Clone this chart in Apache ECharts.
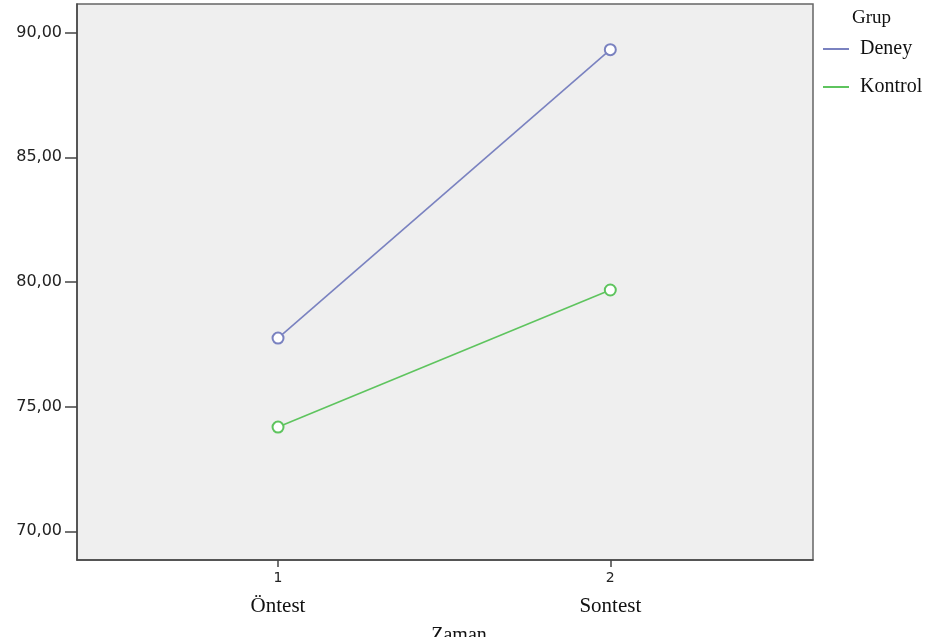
<!DOCTYPE html>
<html>
<head>
<meta charset="utf-8">
<script src="https://cdn.jsdelivr.net/npm/echarts@6/dist/echarts.min.js"></script>
<style>
html,body{margin:0;padding:0;background:#fff;}
#chart{width:945px;height:637px;}
</style>
</head>
<body>
<div id="chart"></div>
<script>
var timeValues = [1, 2];
var timeNames = ['Öntest', 'Sontest'];
var deney = [77.75, 89.32];
var kontrol = [74.18, 79.68];
var yTicks = [70, 75, 80, 85, 90];
var seriesNames = ['Deney', 'Kontrol'];
var legendTitle = 'Grup';
var xAxisTitle = 'Zaman';

function pairs(vals) {
  return timeValues.map(function (t, i) { return [t, vals[i]]; });
}

var chart = echarts.init(document.getElementById('chart'), null, {renderer: 'canvas'});
chart.setOption({
  animation: false,
  backgroundColor: '#ffffff',
  title: {
    text: legendTitle,
    left: 847, top: 4,
    textStyle: {fontFamily: 'Liberation Serif', fontSize: 19, fontWeight: 'normal', color: '#111'}
  },
  legend: {
    orient: 'vertical',
    left: 818, top: 34,
    itemWidth: 26, itemHeight: 2, itemGap: 18,
    icon: 'rect',
    data: seriesNames,
    textStyle: {fontFamily: 'Liberation Serif', fontSize: 20, color: '#111', padding: [0, 0, 0, 6]}
  },
  grid: {
    left: 77, top: 4, right: 132, bottom: 77,
    outerBoundsMode: 'none',
    containLabel: false,
    show: true, backgroundColor: '#efefef',
    borderColor: '#666', borderWidth: 1.5
  },
  xAxis: {
    type: 'value', min: 0.395, max: 2.61,
    name: xAxisTitle, nameLocation: 'middle', nameGap: 66,
    nameTextStyle: {fontFamily: 'Liberation Serif', fontSize: 20, color: '#111', padding: [0, 0, 0, 28]},
    axisLine: {show: true, lineStyle: {color: '#444', width: 1.5}},
    axisTick: {show: true, customValues: timeValues, length: 7, lineStyle: {color: '#444', width: 1.5}},
    splitLine: {show: false},
    axisLabel: {
      customValues: timeValues,
      margin: 9,
      formatter: function (v) {
        var i = timeValues.indexOf(v);
        return '{n|' + v + '}\n{t|' + (i >= 0 ? timeNames[i] : '') + '}';
      },
      rich: {
        n: {fontFamily: 'DejaVu Sans', fontSize: 14, color: '#222', lineHeight: 18},
        t: {fontFamily: 'Liberation Serif', fontSize: 21, color: '#111', lineHeight: 38}
      }
    }
  },
  yAxis: {
    type: 'value', min: 68.85, max: 91.15,
    axisLine: {show: true, lineStyle: {color: '#444', width: 1.5}},
    axisTick: {show: true, customValues: yTicks, length: 12, lineStyle: {color: '#444', width: 1.5}},
    splitLine: {show: false},
    axisLabel: {
      customValues: yTicks,
      margin: 15,
      fontFamily: 'DejaVu Sans', fontSize: 16, color: '#222',
      formatter: function (v) { return v.toFixed(2).replace('.', ','); }
    }
  },
  series: [
    {
      name: seriesNames[0], type: 'line', data: pairs(deney),
      symbol: 'emptyCircle', symbolSize: 11,
      lineStyle: {color: '#7a82c0', width: 1.6},
      itemStyle: {color: '#7a82c0', borderWidth: 1.3}
    },
    {
      name: seriesNames[1], type: 'line', data: pairs(kontrol),
      symbol: 'emptyCircle', symbolSize: 11,
      lineStyle: {color: '#5ec45e', width: 1.6},
      itemStyle: {color: '#5ec45e', borderWidth: 1.3}
    }
  ]
});
</script>
</body>
</html>
